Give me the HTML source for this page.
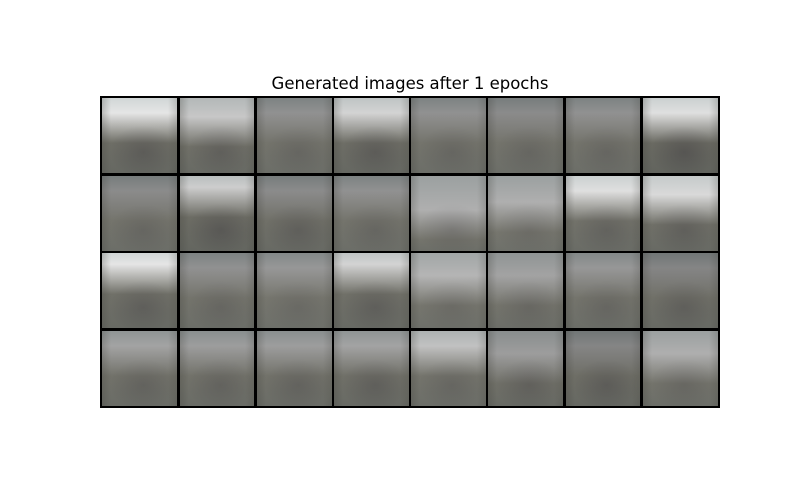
<!DOCTYPE html>
<html><head><meta charset="utf-8"><style>
body{margin:0;background:#fff;width:800px;height:500px;overflow:hidden;position:relative;font-family:"DejaVu Sans","Liberation Sans",sans-serif}
#title{position:absolute;left:0;width:820px;top:74px;text-align:center;font-size:16.5px;color:#000}
#grid{position:absolute;left:100px;top:96px;width:620px;height:312px;background:#000}
.cell{position:absolute;overflow:hidden;background:#6f6e68}
</style></head><body>
<div id="title">Generated images after 1 epochs</div>
<div id="grid"></div>
<script>
// top highlight brightness per image (0..1), highlight vertical center (fraction), darkness of lower region
const topBright=[
[0.95,0.7,0.25,0.8,0.25,0.2,0.25,0.9],
[0.2,0.75,0.2,0.25,0.5,0.5,0.9,0.85],
[0.95,0.25,0.3,0.8,0.55,0.4,0.3,0.15],
[0.4,0.35,0.35,0.4,0.65,0.35,0.15,0.5]];
const bandPos=[
[0.2,0.25,0.2,0.2,0.2,0.2,0.2,0.2],
[0.2,0.15,0.2,0.2,0.45,0.35,0.2,0.25],
[0.15,0.2,0.2,0.15,0.3,0.3,0.2,0.2],
[0.2,0.2,0.2,0.2,0.2,0.3,0.2,0.3]];
const lowDark=[
[0.5,0.45,0.35,0.5,0.35,0.35,0.35,0.6],
[0.35,0.55,0.45,0.35,0.35,0.3,0.4,0.45],
[0.45,0.35,0.3,0.45,0.3,0.35,0.35,0.45],
[0.4,0.4,0.4,0.45,0.35,0.45,0.5,0.35]];
const grid=document.getElementById('grid');
const pad=2.4,pitchX=(620-pad)/8,pitchY=(312-pad)/4;
for(let r=0;r<4;r++)for(let c=0;c<8;c++){
  const d=document.createElement('div');
  d.className='cell';
  
  
  d.style.left=(c*pitchX+pad)+'px';
  d.style.top=(r*pitchY+pad)+'px';
  d.style.width=(pitchX-pad)+'px';
  d.style.height=(pitchY-pad)+'px';
  const b=topBright[r][c],p=bandPos[r][c]*100,k=lowDark[r][c];
  const hi=Math.round(115+b*120);
  const lo=Math.round(122-k*40);
  d.style.background=
    'radial-gradient(ellipse 45% 35% at 55% 72%, rgba(40,35,45,'+(k*0.45)+'), rgba(0,0,0,0) 100%),'+
    'linear-gradient(90deg, rgba(60,60,55,0.25) 0%, rgba(0,0,0,0) 12%, rgba(0,0,0,0) 88%, rgba(60,60,55,0.2) 100%),'+
    'linear-gradient(180deg, rgb('+(hi-20)+','+(hi-15)+','+(hi-15)+') 0%, rgb('+hi+','+hi+','+hi+') '+p+'%, rgb('+(lo+8)+','+(lo+8)+','+lo+') '+(p+40)+'%, rgb('+lo+','+(lo+2)+','+(lo-4)+') 100%)';
  grid.appendChild(d);
}
</script>
</body></html>
